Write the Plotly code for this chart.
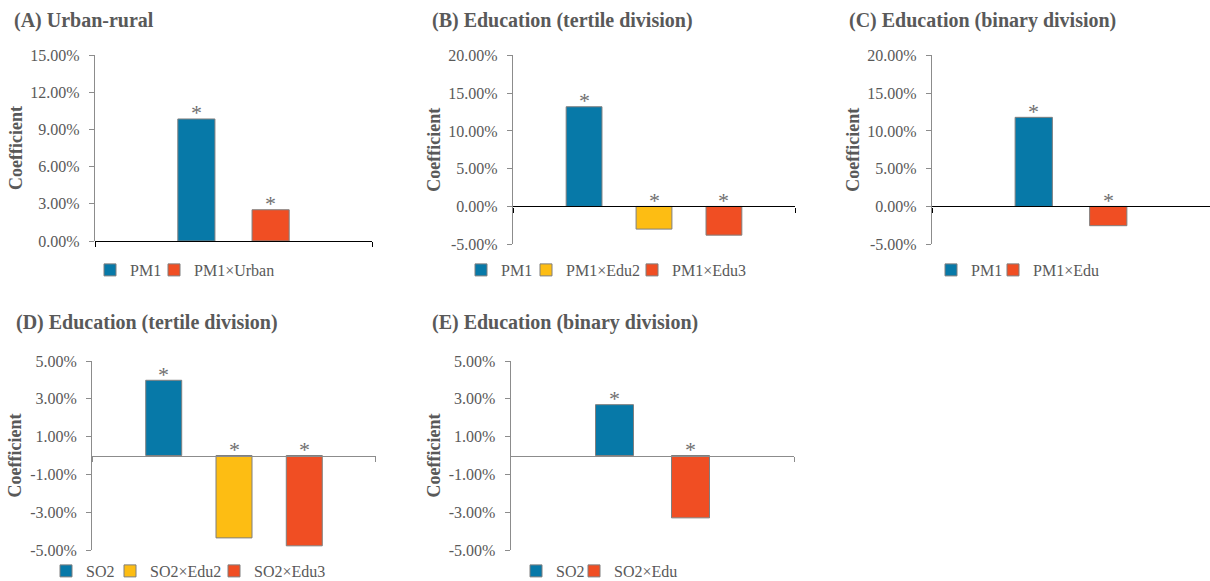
import plotly.graph_objects as go

# ---- data (coefficients, %) ----
a_series = ["PM1", "PM1×Urban"]
a_values = [9.84, 2.52]

b_series = ["PM1", "PM1×Edu2", "PM1×Edu3"]
b_values = [13.2, -3.0, -3.8]

c_series = ["PM1", "PM1×Edu"]
c_values = [11.8, -2.55]

d_series = ["SO2", "SO2×Edu2", "SO2×Edu3"]
d_values = [3.98, -4.36, -4.78]

e_series = ["SO2", "SO2×Edu"]
e_values = [2.69, -3.30]

ticks_pm_urban = [0, 3, 6, 9, 12, 15]
ticks_pm_edu = [-5, 0, 5, 10, 15, 20]
ticks_so2 = [-5, -3, -1, 1, 3, 5]

titles = ["(A) Urban-rural", "(B) Education (tertile division)",
          "(C) Education (binary division)", "(D) Education (tertile division)",
          "(E) Education (binary division)"]
significant = "*"

# ---- styling ----
W, H = 1210, 581
FONT = "Times New Roman, Liberation Serif, Tinos, serif"
GREY = "#595959"
BLUE, YELLOW, ORANGE = "#0779A8", "#FDBD13", "#F04E23"
palette2 = [BLUE, ORANGE]
palette3 = [BLUE, YELLOW, ORANGE]


def px_x(p):
    return p / W


def px_y(p):
    return 1 - p / H


# panel geometry in pixels: (x0, x1, y_top, y_bottom)
# legend: (left edge of first swatch, centre y, distances between swatches)
panels = [
    dict(series=a_series, values=a_values, ticks=ticks_pm_urban, rng=[0, 15],
         box=(95, 372, 55, 241), colors=palette2, xline="#000000",
         title_xy=(12, 20), legend=(117, 270, [59])),
    dict(series=b_series, values=b_values, ticks=ticks_pm_edu, rng=[-5, 20],
         box=(513, 795, 55.4, 244.2), colors=palette3, xline="#000000",
         title_xy=(430, 20), legend=(488, 270, [60, 101])),
    dict(series=c_series, values=c_values, ticks=ticks_pm_edu, rng=[-5, 20],
         box=(932, 1210, 55.4, 244.2), colors=palette2, xline="#000000",
         title_xy=(847, 20), legend=(958, 270, [57])),
    dict(series=d_series, values=d_values, ticks=ticks_so2, rng=[-5, 5],
         box=(92.3, 375.7, 361, 550), colors=palette3, xline="#8c8c8c",
         title_xy=(14, 322), legend=(73, 571, [59, 99])),
    dict(series=e_series, values=e_values, ticks=ticks_so2, rng=[-5, 5],
         box=(510.7, 794.3, 361, 550), colors=palette2, xline="#8c8c8c",
         title_xy=(430, 322), legend=(543, 571, [53])),
]

fig = go.Figure()
layout = dict(
    width=W, height=H, margin=dict(l=0, r=0, t=0, b=0, autoexpand=False),
    paper_bgcolor="white", plot_bgcolor="white",
    font=dict(family=FONT, color=GREY), barmode="overlay",
    annotations=[],
)

for i, p in enumerate(panels):
    k = "" if i == 0 else str(i + 1)
    xa, ya = "x" + k, "y" + k
    lg = "legend" + k
    n = len(p["series"])
    lx, ly, gaps = p["legend"]
    # bar width and spacing in category units (one category spanning -0.5..0.5)
    bw = 0.134 if n == 2 else 0.127
    step = 2 * bw if n == 2 else 0.248
    first = -((n - 1) * step + bw) / 2
    for j, (name, val) in enumerate(zip(p["series"], p["values"])):
        off = first + j * step
        extra = {}
        if j < len(gaps):
            # legend entry width: keeps swatch spacing compact
            extra["legendwidth"] = gaps[j] - 40
        fig.add_trace(go.Bar(
            x=[0], y=[val], name=name, xaxis=xa, yaxis=ya, legend=lg,
            width=bw, offset=off,
            marker=dict(color=p["colors"][j], line=dict(color="#7f7f7f", width=1)),
            hoverinfo="skip", **extra,
        ))
        layout["annotations"].append(dict(
            x=off + bw / 2, y=max(val, 0), xref=xa, yref=ya,
            text=significant, showarrow=False, yanchor="middle", yshift=6,
            font=dict(family=FONT, size=22, color="#6f6f6f"),
        ))

    x0, x1, yt, yb = p["box"]
    lo, hi = p["rng"]
    ydom = [px_y(yb), px_y(yt)]
    zero_pos = ydom[0] + (0 - lo) / (hi - lo) * (ydom[1] - ydom[0])
    layout["xaxis" + k] = dict(
        domain=[px_x(x0), min(px_x(x1), 1.0)], range=[-0.5, 0.5],
        anchor="free", position=zero_pos, showgrid=False, zeroline=False,
        showline=True, linecolor=p["xline"], linewidth=1.3,
        tickvals=[-0.5, 0.5], ticktext=["", ""], ticks="outside", ticklen=5,
        tickcolor=p["xline"], tickwidth=1.3, fixedrange=True,
    )
    layout["yaxis" + k] = dict(
        domain=ydom, range=p["rng"], anchor=xa, showgrid=False, zeroline=False,
        showline=True, linecolor="#8c8c8c", linewidth=1.3,
        tickvals=p["ticks"], ticktext=[f"{t:.2f}%" for t in p["ticks"]],
        ticks="outside", ticklen=5, tickcolor="#8c8c8c", tickwidth=1.3,
        ticklabelstandoff=6,
        tickfont=dict(family=FONT, size=16, color=GREY),
        title=dict(text="<b>Coefficient</b>", standoff=3,
                   font=dict(family=FONT, size=18, color=GREY)),
        fixedrange=True,
    )
    layout[lg] = dict(
        orientation="h", x=px_x(lx - 27), y=px_y(ly), xanchor="left",
        yanchor="middle", bgcolor="rgba(0,0,0,0)",
        font=dict(family=FONT, size=16, color=GREY),
        itemwidth=30, tracegroupgap=0,
    )
    tx, ty = p["title_xy"]
    layout["annotations"].append(dict(
        x=px_x(tx), y=px_y(ty), xref="paper", yref="paper", xanchor="left",
        yanchor="middle", text=f"<b>{titles[i]}</b>", showarrow=False,
        font=dict(family=FONT, size=20, color=GREY),
    ))

fig.update_layout(**layout)
fig.write_html("out.html")
